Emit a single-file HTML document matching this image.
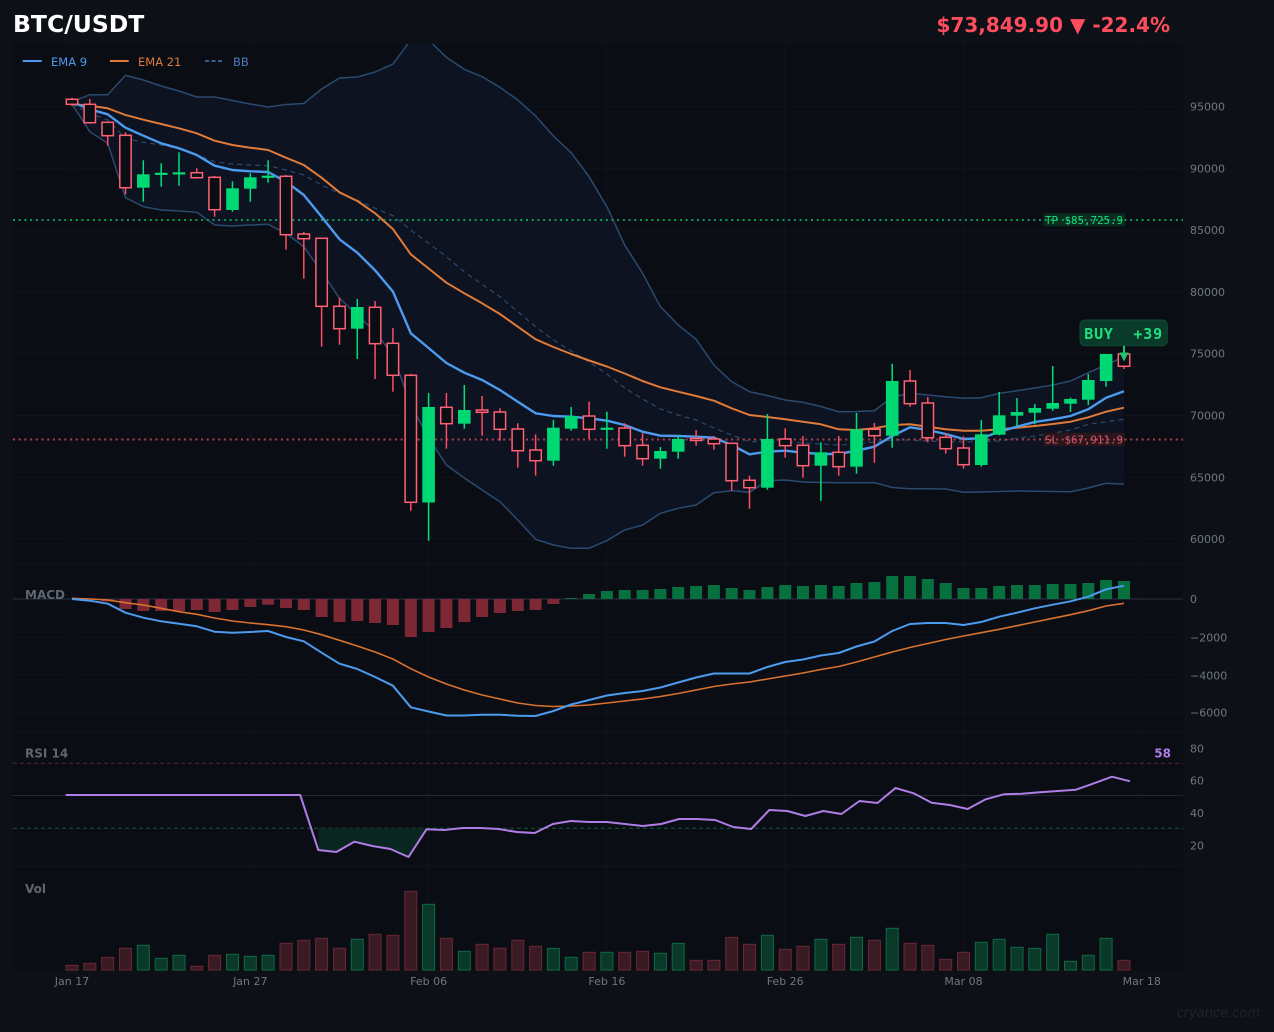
<!DOCTYPE html>
<html><head><meta charset="utf-8"><style>
html,body{margin:0;padding:0;background:#0d1117;}
svg{display:block;}
text{font-family:"DejaVu Sans","Liberation Sans",sans-serif;}
.tk{fill:#6e7681;font-size:11px;}
.wr{stroke:#ff4d63;stroke-width:1.5;}
.wg{stroke:#00e07a;stroke-width:1.5;}
.br{fill:#0b0e15;stroke:#ff6175;stroke-width:1.5;}
.bg{fill:#00d874;}
.vr{fill:#3b1b23;stroke:#6a2634;stroke-width:1;}
.vg{fill:#0a3829;stroke:#0d6a44;stroke-width:1;}
.hr{fill:#7e2836;}
.hg{fill:#07703f;}
</style></head><body>
<svg width="1274" height="1032" viewBox="0 0 1274 1032" xmlns="http://www.w3.org/2000/svg">
<defs>
<clipPath id="cm"><rect x="13" y="44" width="1170" height="518"/></clipPath>
</defs>
<rect x="0" y="0" width="1274" height="1032" fill="#0d1117"/>
<!-- panels -->
<rect x="13" y="44" width="1170" height="518" fill="#0a0d13"/>
<rect x="13" y="565" width="1170" height="166" fill="#0a0d13"/>
<rect x="13" y="734" width="1170" height="131" fill="#0a0d13"/>
<rect x="13" y="868" width="1170" height="102" fill="#0a0d13"/>

<!-- gridlines -->
<g stroke="#0f141d" stroke-width="1">
<line x1="13" y1="106.6" x2="1183" y2="106.6"/><line x1="13" y1="168.4" x2="1183" y2="168.4"/>
<line x1="13" y1="230.2" x2="1183" y2="230.2"/><line x1="13" y1="292" x2="1183" y2="292"/>
<line x1="13" y1="353.7" x2="1183" y2="353.7"/><line x1="13" y1="415.5" x2="1183" y2="415.5"/>
<line x1="13" y1="477.3" x2="1183" y2="477.3"/><line x1="13" y1="539" x2="1183" y2="539"/>
<line x1="13" y1="637" x2="1183" y2="637"/><line x1="13" y1="675" x2="1183" y2="675"/><line x1="13" y1="713" x2="1183" y2="713"/>
<line x1="72" y1="44" x2="72" y2="970"/><line x1="250.3" y1="44" x2="250.3" y2="970"/>
<line x1="428.6" y1="44" x2="428.6" y2="970"/><line x1="606.9" y1="44" x2="606.9" y2="970"/>
<line x1="785.2" y1="44" x2="785.2" y2="970"/><line x1="963.5" y1="44" x2="963.5" y2="970"/>
<line x1="1141.8" y1="44" x2="1141.8" y2="970"/>
</g>

<!-- main chart -->
<g clip-path="url(#cm)">
<polygon fill="#0d1320" points="72,101.7 89.8,94.7 107.7,94.7 125.5,75.3 143.3,80 161.2,86 179,91 196.8,97 214.6,97 232.5,100.5 250.3,104 268.1,107 286,104.5 303.8,103.5 321.6,89 339.5,78 357.3,77 375.1,72 392.9,64 410.8,40 428.6,40 446.4,57.3 464.3,69.3 482.1,76.7 499.9,87.3 517.8,100 535.6,116 553.4,136 571.2,152.7 589.1,176.7 606.9,206.7 624.7,245 642.6,273.3 660.4,306.7 678.2,325 696.1,339.3 713.9,365 731.7,381.7 749.5,391.7 767.4,395.5 785.2,400 803,402.3 820.9,406.5 838.7,411.7 856.5,411.5 874.4,410.7 892.2,397 910,393.3 927.8,395 945.7,396.7 963.5,398.3 981.3,397.7 999.2,393.3 1017,390.7 1034.8,388 1052.7,385 1070.5,381 1088.3,372.7 1106.1,365 1124,356.7 1124,484.3 1106.1,483.3 1088.3,488 1070.5,491.7 1052.7,491.5 1034.8,491.3 1017,491 999.2,491.5 981.3,492 963.5,492.3 945.7,489 927.8,488.7 910,488.7 892.2,487.5 874.4,482.7 856.5,482.7 838.7,482.7 820.9,482.5 803,482 785.2,480 767.4,480.7 749.5,492.3 731.7,490.7 713.9,492.7 696.1,505 678.2,508.3 660.4,513.3 642.6,525 624.7,530 606.9,540.7 589.1,548.3 571.2,548.3 553.4,545 535.6,539.3 517.8,520 499.9,501.7 482.1,490 464.3,478 446.4,465 428.6,438 410.8,405 392.9,355 375.1,331.7 357.3,315 339.5,298.3 321.6,271.7 303.8,246.7 286,233.3 268.1,224.3 250.3,225 232.5,226 214.6,225 196.8,212.3 179,211 161.2,210 143.3,206.7 125.5,197.7 107.7,143.3 89.8,131.7 72,104"/>
<polyline fill="none" stroke="#2b4a70" stroke-width="1.5" points="72,101.7 89.8,94.7 107.7,94.7 125.5,75.3 143.3,80 161.2,86 179,91 196.8,97 214.6,97 232.5,100.5 250.3,104 268.1,107 286,104.5 303.8,103.5 321.6,89 339.5,78 357.3,77 375.1,72 392.9,64 410.8,40 428.6,40 446.4,57.3 464.3,69.3 482.1,76.7 499.9,87.3 517.8,100 535.6,116 553.4,136 571.2,152.7 589.1,176.7 606.9,206.7 624.7,245 642.6,273.3 660.4,306.7 678.2,325 696.1,339.3 713.9,365 731.7,381.7 749.5,391.7 767.4,395.5 785.2,400 803,402.3 820.9,406.5 838.7,411.7 856.5,411.5 874.4,410.7 892.2,397 910,393.3 927.8,395 945.7,396.7 963.5,398.3 981.3,397.7 999.2,393.3 1017,390.7 1034.8,388 1052.7,385 1070.5,381 1088.3,372.7 1106.1,365 1124,356.7"/>
<polyline fill="none" stroke="#2b4a70" stroke-width="1.5" points="72,104 89.8,131.7 107.7,143.3 125.5,197.7 143.3,206.7 161.2,210 179,211 196.8,212.3 214.6,225 232.5,226 250.3,225 268.1,224.3 286,233.3 303.8,246.7 321.6,271.7 339.5,298.3 357.3,315 375.1,331.7 392.9,355 410.8,405 428.6,438 446.4,465 464.3,478 482.1,490 499.9,501.7 517.8,520 535.6,539.3 553.4,545 571.2,548.3 589.1,548.3 606.9,540.7 624.7,530 642.6,525 660.4,513.3 678.2,508.3 696.1,505 713.9,492.7 731.7,490.7 749.5,492.3 767.4,480.7 785.2,480 803,482 820.9,482.5 838.7,482.7 856.5,482.7 874.4,482.7 892.2,487.5 910,488.7 927.8,488.7 945.7,489 963.5,492.3 981.3,492 999.2,491.5 1017,491 1034.8,491.3 1052.7,491.5 1070.5,491.7 1088.3,488 1106.1,483.3 1124,484.3"/>
<polyline fill="none" stroke="#2b4a70" stroke-width="1.2" stroke-dasharray="5 4" points="72,104 89.8,113.3 107.7,120 125.5,138.3 143.3,142.3 161.2,145 179,148.3 196.8,155 214.6,161.7 232.5,164 250.3,165 268.1,165.7 286,170 303.8,175 321.6,185 339.5,193.3 357.3,200 375.1,208.3 392.9,215.7 410.8,230 428.6,243.3 446.4,256.7 464.3,272 482.1,284.3 499.9,296.7 517.8,311.7 535.6,326.7 553.4,340 571.2,351 589.1,362 606.9,374 624.7,388 642.6,399 660.4,409 678.2,415 696.1,420 713.9,428 731.7,435 749.5,441.7 767.4,441.5 785.2,441.7 803,443 820.9,444 838.7,445 856.5,444 874.4,442 892.2,440 910,440 927.8,441 945.7,441.7 963.5,442 981.3,441.7 999.2,441 1017,438.3 1034.8,436 1052.7,433.3 1070.5,430 1088.3,424.3 1106.1,421.7 1124,419.3"/>
</g>

<!-- TP / SL -->
<rect x="1043.3" y="213.3" width="81.7" height="13" rx="2" fill="#0b2d20"/>
<line x1="13" y1="220" x2="1183" y2="220" stroke="#0f9a5c" stroke-width="2" stroke-dasharray="2 3.7"/>
<text x="1084" y="224" text-anchor="middle" style="font-family:'DejaVu Sans Mono','Liberation Mono',monospace;font-size:10.8px;fill:#19e07c;">TP $85,725.9</text>
<rect x="1043.3" y="432.7" width="81.7" height="13.3" rx="2" fill="#2a151d"/>
<line x1="13" y1="439.5" x2="1183" y2="439.5" stroke="#a8404f" stroke-width="2" stroke-dasharray="2 3.7"/>
<text x="1084" y="443.5" text-anchor="middle" style="font-family:'DejaVu Sans Mono','Liberation Mono',monospace;font-size:10.8px;fill:#d9566a;">SL $67,911.9</text>

<!-- EMA lines -->
<polyline fill="none" stroke="#e07b39" stroke-width="2" stroke-linejoin="round" points="72,104 89.8,105.7 107.7,108.3 125.5,115 143.3,119.7 161.2,124 179,128.3 196.8,133.3 214.6,140.7 232.5,145 250.3,147.7 268.1,150 286,157.7 303.8,165 321.6,177.7 339.5,192.3 357.3,201 375.1,213.3 392.9,229 410.8,254.3 428.6,268.5 446.4,282.7 464.3,293.3 482.1,303.3 499.9,314 517.8,326.7 535.6,339.3 553.4,347 571.2,354 589.1,360.5 606.9,366.5 624.7,373.5 642.6,381 660.4,387.3 678.2,391.7 696.1,396 713.9,400.7 731.7,408.3 749.5,415 767.4,417 785.2,419.3 803,421.7 820.9,424.3 838.7,429.3 856.5,430 874.4,428.3 892.2,425 910,424.3 927.8,426.7 945.7,429.3 963.5,430.7 981.3,430.7 999.2,429.3 1017,427.7 1034.8,426 1052.7,424 1070.5,421.7 1088.3,417.3 1106.1,411.7 1124,407.7"/>
<polyline fill="none" stroke="#4d9bef" stroke-width="2.4" stroke-linejoin="round" points="72,102 89.8,109.3 107.7,114.3 125.5,127.7 143.3,135.7 161.2,143.3 179,148.3 196.8,155 214.6,165.7 232.5,170 250.3,171.3 268.1,172 286,181.7 303.8,195 321.6,216.7 339.5,239.3 357.3,252.7 375.1,270.3 392.9,291.5 410.8,333.3 428.6,348 446.4,363 464.3,372.7 482.1,380 499.9,390 517.8,401.7 535.6,413.3 553.4,416 571.2,416.7 589.1,418.3 606.9,420.7 624.7,425 642.6,431.7 660.4,435.7 678.2,436 696.1,436.7 713.9,437.7 731.7,445 749.5,454.3 767.4,451.7 785.2,450.7 803,452.7 820.9,454 838.7,454 856.5,450.7 874.4,446.7 892.2,436 910,427.3 927.8,430 945.7,434 963.5,439 981.3,438.3 999.2,431.7 1017,426.7 1034.8,422 1052.7,419.3 1070.5,416 1088.3,409.3 1106.1,397.7 1124,391.3"/>

<!-- candles -->
<g>
<line class="wr" x1="72" y1="97.7" x2="72" y2="106"/><rect class="br" x="66.3" y="99.3" width="11.4" height="5"/>
<line class="wr" x1="89.8" y1="99" x2="89.8" y2="123.7"/><rect class="br" x="84.1" y="104.3" width="11.4" height="18.4"/>
<line class="wr" x1="107.7" y1="122.3" x2="107.7" y2="145.7"/><rect class="br" x="102" y="122.3" width="11.4" height="13.4"/>
<line class="wr" x1="125.5" y1="132.3" x2="125.5" y2="194.3"/><rect class="br" x="119.8" y="135.3" width="11.4" height="52.4"/>
<line class="wg" x1="143.3" y1="160.3" x2="143.3" y2="201.7"/><rect class="bg" x="137" y="174.3" width="12.6" height="13.4"/>
<line class="wg" x1="161.2" y1="163.3" x2="161.2" y2="186.7"/><rect class="bg" x="154.9" y="172.8" width="12.6" height="2.2"/>
<line class="wg" x1="179" y1="152.3" x2="179" y2="185.7"/><rect class="bg" x="172.7" y="172.3" width="12.6" height="2.2"/>
<line class="wr" x1="196.8" y1="168.3" x2="196.8" y2="178.7"/><rect class="br" x="191.1" y="172.7" width="11.4" height="5"/>
<line class="wr" x1="214.6" y1="176" x2="214.6" y2="216.7"/><rect class="br" x="208.9" y="177.3" width="11.4" height="32.4"/>
<line class="wg" x1="232.5" y1="181.3" x2="232.5" y2="211.7"/><rect class="bg" x="226.2" y="188.3" width="12.6" height="21.7"/>
<line class="wg" x1="250.3" y1="173.3" x2="250.3" y2="201.7"/><rect class="bg" x="244" y="177.3" width="12.6" height="11.4"/>
<line class="wg" x1="268.1" y1="160.3" x2="268.1" y2="182.7"/><rect class="bg" x="261.8" y="175.7" width="12.6" height="2.2"/>
<line class="wr" x1="286" y1="175" x2="286" y2="249.7"/><rect class="br" x="280.3" y="176.3" width="11.4" height="58.4"/>
<line class="wr" x1="303.8" y1="232" x2="303.8" y2="278.7"/><rect class="br" x="298.1" y="234" width="11.4" height="4.7"/>
<line class="wr" x1="321.6" y1="238.3" x2="321.6" y2="346.7"/><rect class="br" x="315.9" y="238.3" width="11.4" height="68"/>
<line class="wr" x1="339.5" y1="297.7" x2="339.5" y2="344.7"/><rect class="br" x="333.8" y="306.3" width="11.4" height="22.4"/>
<line class="wg" x1="357.3" y1="299" x2="357.3" y2="359"/><rect class="bg" x="351" y="307" width="12.6" height="21.7"/>
<line class="wr" x1="375.1" y1="301" x2="375.1" y2="379"/><rect class="br" x="369.4" y="307.3" width="11.4" height="36.4"/>
<line class="wr" x1="392.9" y1="328" x2="392.9" y2="391.7"/><rect class="br" x="387.2" y="343.3" width="11.4" height="32"/>
<line class="wr" x1="410.8" y1="373.7" x2="410.8" y2="510.7"/><rect class="br" x="405.1" y="375.3" width="11.4" height="127"/>
<line class="wg" x1="428.6" y1="393" x2="428.6" y2="540.7"/><rect class="bg" x="422.3" y="407" width="12.6" height="95.5"/>
<line class="wr" x1="446.4" y1="393" x2="446.4" y2="448.7"/><rect class="br" x="440.7" y="407.3" width="11.4" height="16.4"/>
<line class="wg" x1="464.3" y1="385" x2="464.3" y2="428.7"/><rect class="bg" x="458" y="410" width="12.6" height="13.7"/>
<line class="wr" x1="482.1" y1="396" x2="482.1" y2="435.7"/><rect class="br" x="476.4" y="410" width="11.4" height="2.3"/>
<line class="wr" x1="499.9" y1="408.3" x2="499.9" y2="440.7"/><rect class="br" x="494.2" y="412" width="11.4" height="17.3"/>
<line class="wr" x1="517.8" y1="423.3" x2="517.8" y2="467.7"/><rect class="br" x="512.1" y="429" width="11.4" height="21.7"/>
<line class="wr" x1="535.6" y1="434.3" x2="535.6" y2="475.7"/><rect class="br" x="529.9" y="450" width="11.4" height="10.7"/>
<line class="wg" x1="553.4" y1="420" x2="553.4" y2="465.7"/><rect class="bg" x="547.1" y="427.7" width="12.6" height="33"/>
<line class="wg" x1="571.2" y1="407" x2="571.2" y2="430.7"/><rect class="bg" x="564.9" y="416" width="12.6" height="12.7"/>
<line class="wr" x1="589.1" y1="401.7" x2="589.1" y2="439"/><rect class="br" x="583.4" y="416" width="11.4" height="13.3"/>
<line class="wg" x1="606.9" y1="411.7" x2="606.9" y2="448.7"/><rect class="bg" x="600.6" y="427.7" width="12.6" height="2.2"/>
<line class="wr" x1="624.7" y1="423.3" x2="624.7" y2="456.7"/><rect class="br" x="619" y="428" width="11.4" height="17.7"/>
<line class="wr" x1="642.6" y1="433.3" x2="642.6" y2="465.7"/><rect class="br" x="636.9" y="445.3" width="11.4" height="13.4"/>
<line class="wg" x1="660.4" y1="447" x2="660.4" y2="468.7"/><rect class="bg" x="654.1" y="451" width="12.6" height="7.7"/>
<line class="wg" x1="678.2" y1="435" x2="678.2" y2="458.7"/><rect class="bg" x="671.9" y="439" width="12.6" height="12.7"/>
<line class="wr" x1="696.1" y1="430" x2="696.1" y2="445.7"/><rect class="br" x="690.4" y="438.5" width="11.4" height="2"/>
<line class="wr" x1="713.9" y1="436" x2="713.9" y2="449.7"/><rect class="br" x="708.2" y="439" width="11.4" height="4.7"/>
<line class="wr" x1="731.7" y1="443.3" x2="731.7" y2="490.7"/><rect class="br" x="726" y="443.3" width="11.4" height="37.4"/>
<line class="wr" x1="749.5" y1="475.7" x2="749.5" y2="508.7"/><rect class="br" x="743.8" y="480.3" width="11.4" height="7.4"/>
<line class="wg" x1="767.4" y1="414" x2="767.4" y2="489.7"/><rect class="bg" x="761.1" y="439" width="12.6" height="48.7"/>
<line class="wr" x1="785.2" y1="428.3" x2="785.2" y2="457.7"/><rect class="br" x="779.5" y="439" width="11.4" height="6.7"/>
<line class="wr" x1="803" y1="436" x2="803" y2="477.7"/><rect class="br" x="797.3" y="445.3" width="11.4" height="20.4"/>
<line class="wg" x1="820.9" y1="442.3" x2="820.9" y2="501"/><rect class="bg" x="814.6" y="452.3" width="12.6" height="13.4"/>
<line class="wr" x1="838.7" y1="436" x2="838.7" y2="475.7"/><rect class="br" x="833" y="452.3" width="11.4" height="14.4"/>
<line class="wg" x1="856.5" y1="413" x2="856.5" y2="473.7"/><rect class="bg" x="850.2" y="429.3" width="12.6" height="37.4"/>
<line class="wr" x1="874.4" y1="423" x2="874.4" y2="462.7"/><rect class="br" x="868.7" y="429.3" width="11.4" height="6.4"/>
<line class="wg" x1="892.2" y1="363.7" x2="892.2" y2="447.7"/><rect class="bg" x="885.9" y="381" width="12.6" height="54.7"/>
<line class="wr" x1="910" y1="370" x2="910" y2="406.7"/><rect class="br" x="904.3" y="381" width="11.4" height="22.7"/>
<line class="wr" x1="927.8" y1="397" x2="927.8" y2="442.3"/><rect class="br" x="922.1" y="403" width="11.4" height="34.7"/>
<line class="wr" x1="945.7" y1="433" x2="945.7" y2="453.7"/><rect class="br" x="940" y="437.3" width="11.4" height="11.4"/>
<line class="wr" x1="963.5" y1="436.3" x2="963.5" y2="468.7"/><rect class="br" x="957.8" y="448" width="11.4" height="16.7"/>
<line class="wg" x1="981.3" y1="420" x2="981.3" y2="466.7"/><rect class="bg" x="975" y="434.3" width="12.6" height="30.7"/>
<line class="wg" x1="999.2" y1="392" x2="999.2" y2="435.3"/><rect class="bg" x="992.9" y="415.3" width="12.6" height="19.4"/>
<line class="wg" x1="1017" y1="398" x2="1017" y2="427.3"/><rect class="bg" x="1010.7" y="412" width="12.6" height="3.7"/>
<line class="wg" x1="1034.8" y1="404" x2="1034.8" y2="424.3"/><rect class="bg" x="1028.5" y="408" width="12.6" height="4.7"/>
<line class="wg" x1="1052.7" y1="366" x2="1052.7" y2="410.7"/><rect class="bg" x="1046.4" y="403" width="12.6" height="5.7"/>
<line class="wg" x1="1070.5" y1="397.7" x2="1070.5" y2="412"/><rect class="bg" x="1064.2" y="399" width="12.6" height="4.7"/>
<line class="wg" x1="1088.3" y1="374" x2="1088.3" y2="405"/><rect class="bg" x="1082" y="380" width="12.6" height="19.7"/>
<line class="wg" x1="1106.1" y1="354" x2="1106.1" y2="386.7"/><rect class="bg" x="1099.8" y="354" width="12.6" height="27"/>
<line class="wr" x1="1124" y1="340" x2="1124" y2="369"/><rect class="br" x="1118.3" y="354" width="11.4" height="12.3"/>
</g>

<!-- BUY badge + arrow -->
<rect x="1080" y="320" width="87.3" height="25.7" rx="5" fill="#0a3a29" stroke="#0d4a34" stroke-width="1"/>
<text x="1123.6" y="339" text-anchor="middle" style="font-family:'DejaVu Sans Mono','Liberation Mono',monospace;font-weight:bold;font-size:15px;letter-spacing:0.8px;fill:#1fe07f;" xml:space="preserve">BUY  +39</text>
<line x1="1124" y1="346" x2="1124" y2="356" stroke="#1ec46f" stroke-width="2"/>
<polygon points="1119.5,352.5 1128.5,352.5 1124,361.5" fill="#1ec46f"/>

<!-- legend -->
<line x1="22.7" y1="61" x2="41.7" y2="61" stroke="#4d9bef" stroke-width="2"/>
<text x="51" y="66" style="font-size:11.5px;fill:#4d9bef;">EMA 9</text>
<line x1="110" y1="61" x2="128.7" y2="61" stroke="#e07b39" stroke-width="2"/>
<text x="138" y="66" style="font-size:11.5px;fill:#e07b39;">EMA 21</text>
<line x1="205" y1="61" x2="223" y2="61" stroke="#4a7ab0" stroke-width="1.5" stroke-dasharray="4 2.5"/>
<text x="233" y="66" style="font-size:11.5px;fill:#4a7ab8;">BB</text>

<!-- MACD -->
<line x1="13" y1="599" x2="1183" y2="599" stroke="#272d38" stroke-width="1.2"/>
<g>
<rect class="hr" x="83.8" y="599" width="12" height="0.6"/>
<rect class="hr" x="101.7" y="599" width="12" height="2.5"/>
<rect class="hr" x="119.5" y="599" width="12" height="10"/>
<rect class="hr" x="137.3" y="599" width="12" height="12"/>
<rect class="hr" x="155.2" y="599" width="12" height="12"/>
<rect class="hr" x="173" y="599" width="12" height="12"/>
<rect class="hr" x="190.8" y="599" width="12" height="11"/>
<rect class="hr" x="208.6" y="599" width="12" height="13"/>
<rect class="hr" x="226.5" y="599" width="12" height="11"/>
<rect class="hr" x="244.3" y="599" width="12" height="8"/>
<rect class="hr" x="262.1" y="599" width="12" height="5.7"/>
<rect class="hr" x="280" y="599" width="12" height="9"/>
<rect class="hr" x="297.8" y="599" width="12" height="11"/>
<rect class="hr" x="315.6" y="599" width="12" height="18"/>
<rect class="hr" x="333.5" y="599" width="12" height="23"/>
<rect class="hr" x="351.3" y="599" width="12" height="22"/>
<rect class="hr" x="369.1" y="599" width="12" height="24"/>
<rect class="hr" x="386.9" y="599" width="12" height="26"/>
<rect class="hr" x="404.8" y="599" width="12" height="38"/>
<rect class="hr" x="422.6" y="599" width="12" height="33"/>
<rect class="hr" x="440.4" y="599" width="12" height="29"/>
<rect class="hr" x="458.3" y="599" width="12" height="23"/>
<rect class="hr" x="476.1" y="599" width="12" height="18"/>
<rect class="hr" x="493.9" y="599" width="12" height="14"/>
<rect class="hr" x="511.8" y="599" width="12" height="12"/>
<rect class="hr" x="529.6" y="599" width="12" height="11"/>
<rect class="hr" x="547.4" y="599" width="12" height="5"/>
<rect class="hg" x="565.2" y="598" width="12" height="1"/>
<rect class="hg" x="583.1" y="594" width="12" height="5"/>
<rect class="hg" x="600.9" y="591" width="12" height="8"/>
<rect class="hg" x="618.7" y="590" width="12" height="9"/>
<rect class="hg" x="636.6" y="590" width="12" height="9"/>
<rect class="hg" x="654.4" y="589" width="12" height="10"/>
<rect class="hg" x="672.2" y="587" width="12" height="12"/>
<rect class="hg" x="690.1" y="586" width="12" height="13"/>
<rect class="hg" x="707.9" y="585" width="12" height="14"/>
<rect class="hg" x="725.7" y="588" width="12" height="11"/>
<rect class="hg" x="743.5" y="590" width="12" height="9"/>
<rect class="hg" x="761.4" y="587" width="12" height="12"/>
<rect class="hg" x="779.2" y="585" width="12" height="14"/>
<rect class="hg" x="797" y="586" width="12" height="13"/>
<rect class="hg" x="814.9" y="585" width="12" height="14"/>
<rect class="hg" x="832.7" y="586" width="12" height="13"/>
<rect class="hg" x="850.5" y="583" width="12" height="16"/>
<rect class="hg" x="868.4" y="582" width="12" height="17"/>
<rect class="hg" x="886.2" y="576" width="12" height="23"/>
<rect class="hg" x="904" y="576" width="12" height="23"/>
<rect class="hg" x="921.8" y="579" width="12" height="20"/>
<rect class="hg" x="939.7" y="583" width="12" height="16"/>
<rect class="hg" x="957.5" y="588" width="12" height="11"/>
<rect class="hg" x="975.3" y="588" width="12" height="11"/>
<rect class="hg" x="993.2" y="586" width="12" height="13"/>
<rect class="hg" x="1011" y="585" width="12" height="14"/>
<rect class="hg" x="1028.8" y="585" width="12" height="14"/>
<rect class="hg" x="1046.7" y="584" width="12" height="15"/>
<rect class="hg" x="1064.5" y="584" width="12" height="15"/>
<rect class="hg" x="1082.3" y="583" width="12" height="16"/>
<rect class="hg" x="1100.1" y="580" width="12" height="19"/>
<rect class="hg" x="1118" y="581" width="12" height="18"/>
</g>
<polyline fill="none" stroke="#d9722f" stroke-width="1.6" stroke-linejoin="round" points="72,598.3 89.8,599 107.7,600 125.5,602.7 143.3,605 161.2,608.3 179,611.7 196.8,614.3 214.6,618 232.5,621 250.3,623 268.1,624.7 286,626.7 303.8,630 321.6,634.7 339.5,640.3 357.3,646 375.1,652 392.9,659 410.8,668.7 428.6,677 446.4,684 464.3,690 482.1,695 499.9,699 517.8,703 535.6,705.5 553.4,706.5 571.2,706 589.1,705 606.9,703 624.7,701 642.6,699 660.4,696.5 678.2,693.5 696.1,690 713.9,686.5 731.7,684 749.5,682 767.4,679 785.2,676 803,673 820.9,669.5 838.7,666.5 856.5,662 874.4,657 892.2,652 910,647.5 927.8,643.5 945.7,639.5 963.5,636 981.3,632.7 999.2,629.3 1017,625.7 1034.8,622 1052.7,618.3 1070.5,614.7 1088.3,610.7 1106.1,606 1124,603.3"/>
<polyline fill="none" stroke="#4d9bef" stroke-width="2" stroke-linejoin="round" points="72,599 89.8,600.7 107.7,603.7 125.5,612.7 143.3,617.7 161.2,621.3 179,623.7 196.8,626.3 214.6,631.7 232.5,632.7 250.3,632 268.1,631 286,637 303.8,641.3 321.6,652.7 339.5,663.7 357.3,669 375.1,677 392.9,685.7 410.8,707.3 428.6,711.5 446.4,715.5 464.3,715.5 482.1,714.8 499.9,714.8 517.8,715.7 535.6,716 553.4,711 571.2,704.5 589.1,700 606.9,695.5 624.7,693 642.6,691 660.4,687.5 678.2,682.5 696.1,677.5 713.9,673.5 731.7,673.5 749.5,673.5 767.4,667 785.2,662 803,659.5 820.9,655.5 838.7,653 856.5,646.5 874.4,641.5 892.2,631 910,624 927.8,623 945.7,623 963.5,625 981.3,622 999.2,616.7 1017,612.7 1034.8,608.3 1052.7,604.7 1070.5,601.3 1088.3,596.7 1106.1,589.3 1124,585.7"/>
<text x="25" y="599" style="font-size:12px;font-weight:bold;fill:#5f6670;">MACD</text>

<!-- RSI -->
<line x1="13" y1="763.3" x2="1183" y2="763.3" stroke="#5a2530" stroke-width="1" stroke-dasharray="4 3"/>
<line x1="13" y1="795.5" x2="1183" y2="795.5" stroke="#222833" stroke-width="1"/>
<line x1="13" y1="828.3" x2="1183" y2="828.3" stroke="#0f5a37" stroke-width="1" stroke-dasharray="4 3"/>
<polygon fill="#0a2620" points="318.3,828.3 318.3,850 336.3,852 354.3,841.7 372.4,846 390.4,849 408.5,857 426.5,829.3 426.5,828.3"/>
<polyline fill="none" stroke="#b07de6" stroke-width="2" stroke-linejoin="round" points="65.7,795 300.2,795 318.3,850 336.3,852 354.3,841.7 372.4,846 390.4,849 408.5,857 426.5,829.3 444.5,830 462.6,828 480.6,828 498.7,829 516.7,832 534.7,833 552.8,824 570.8,821 588.9,822 606.9,822 624.9,824 643,826 661,824 679.1,819 697.1,819 715.1,820 733.2,827 751.2,829 769.3,810 787.3,811 805.3,816 823.4,811 841.4,814 859.5,801 877.5,803 895.5,788 913.6,793.3 931.6,802.7 949.7,805 967.7,809 985.7,799.3 1003.8,794.3 1021.8,793.7 1039.9,792.3 1057.9,791 1075.9,789.7 1094,783.3 1112,776.7 1130,781.3"/>
<text x="25" y="757.5" style="font-size:12px;font-weight:bold;fill:#5f6670;">RSI 14</text>
<text x="1171" y="757.5" text-anchor="end" style="font-size:12px;font-weight:bold;fill:#b07de6;">58</text>

<!-- Volume -->
<g>
<rect class="vr" x="66" y="965.3" width="12" height="4.7"/>
<rect class="vr" x="83.8" y="963.3" width="12" height="6.7"/>
<rect class="vr" x="101.7" y="957.3" width="12" height="12.7"/>
<rect class="vr" x="119.5" y="948.3" width="12" height="21.7"/>
<rect class="vg" x="137.3" y="945.3" width="12" height="24.7"/>
<rect class="vg" x="155.2" y="958.3" width="12" height="11.7"/>
<rect class="vg" x="173" y="955.3" width="12" height="14.7"/>
<rect class="vr" x="190.8" y="966.3" width="12" height="3.7"/>
<rect class="vr" x="208.6" y="955.3" width="12" height="14.7"/>
<rect class="vg" x="226.5" y="954.3" width="12" height="15.7"/>
<rect class="vg" x="244.3" y="956.3" width="12" height="13.7"/>
<rect class="vg" x="262.1" y="955.3" width="12" height="14.7"/>
<rect class="vr" x="280" y="943.3" width="12" height="26.7"/>
<rect class="vr" x="297.8" y="940.3" width="12" height="29.7"/>
<rect class="vr" x="315.6" y="938.3" width="12" height="31.7"/>
<rect class="vr" x="333.5" y="948.3" width="12" height="21.7"/>
<rect class="vg" x="351.3" y="939.3" width="12" height="30.7"/>
<rect class="vr" x="369.1" y="934.3" width="12" height="35.7"/>
<rect class="vr" x="386.9" y="935.3" width="12" height="34.7"/>
<rect class="vr" x="404.8" y="891.3" width="12" height="78.7"/>
<rect class="vg" x="422.6" y="904.3" width="12" height="65.7"/>
<rect class="vr" x="440.4" y="938.3" width="12" height="31.7"/>
<rect class="vg" x="458.3" y="951.3" width="12" height="18.7"/>
<rect class="vr" x="476.1" y="944.3" width="12" height="25.7"/>
<rect class="vr" x="493.9" y="948.3" width="12" height="21.7"/>
<rect class="vr" x="511.8" y="940.3" width="12" height="29.7"/>
<rect class="vr" x="529.6" y="946.3" width="12" height="23.7"/>
<rect class="vg" x="547.4" y="948.3" width="12" height="21.7"/>
<rect class="vg" x="565.2" y="957.3" width="12" height="12.7"/>
<rect class="vr" x="583.1" y="952.3" width="12" height="17.7"/>
<rect class="vg" x="600.9" y="952.3" width="12" height="17.7"/>
<rect class="vr" x="618.7" y="952.3" width="12" height="17.7"/>
<rect class="vr" x="636.6" y="951.3" width="12" height="18.7"/>
<rect class="vg" x="654.4" y="953.3" width="12" height="16.7"/>
<rect class="vg" x="672.2" y="943.3" width="12" height="26.7"/>
<rect class="vr" x="690.1" y="960.3" width="12" height="9.7"/>
<rect class="vr" x="707.9" y="960.3" width="12" height="9.7"/>
<rect class="vr" x="725.7" y="937.3" width="12" height="32.7"/>
<rect class="vr" x="743.5" y="944.3" width="12" height="25.7"/>
<rect class="vg" x="761.4" y="935.3" width="12" height="34.7"/>
<rect class="vr" x="779.2" y="949.3" width="12" height="20.7"/>
<rect class="vr" x="797" y="946.3" width="12" height="23.7"/>
<rect class="vg" x="814.9" y="939.3" width="12" height="30.7"/>
<rect class="vr" x="832.7" y="944.3" width="12" height="25.7"/>
<rect class="vg" x="850.5" y="937.3" width="12" height="32.7"/>
<rect class="vr" x="868.4" y="940.3" width="12" height="29.7"/>
<rect class="vg" x="886.2" y="928.3" width="12" height="41.7"/>
<rect class="vr" x="904" y="943.3" width="12" height="26.7"/>
<rect class="vr" x="921.8" y="945.3" width="12" height="24.7"/>
<rect class="vr" x="939.7" y="959.3" width="12" height="10.7"/>
<rect class="vr" x="957.5" y="952.3" width="12" height="17.7"/>
<rect class="vg" x="975.3" y="942.3" width="12" height="27.7"/>
<rect class="vg" x="993.2" y="939.3" width="12" height="30.7"/>
<rect class="vg" x="1011" y="947.3" width="12" height="22.7"/>
<rect class="vg" x="1028.8" y="948.3" width="12" height="21.7"/>
<rect class="vg" x="1046.7" y="934.3" width="12" height="35.7"/>
<rect class="vg" x="1064.5" y="961.3" width="12" height="8.7"/>
<rect class="vg" x="1082.3" y="955.3" width="12" height="14.7"/>
<rect class="vg" x="1100.1" y="938.3" width="12" height="31.7"/>
<rect class="vr" x="1118" y="960.3" width="12" height="9.7"/>
</g>
<text x="25" y="893" style="font-size:12px;font-weight:bold;fill:#5f6670;">Vol</text>

<!-- right axis labels -->
<g class="tk">
<text class="tk" x="1190" y="110.6">95000</text>
<text class="tk" x="1190" y="172.4">90000</text>
<text class="tk" x="1190" y="234.2">85000</text>
<text class="tk" x="1190" y="296">80000</text>
<text class="tk" x="1190" y="357.7">75000</text>
<text class="tk" x="1190" y="419.5">70000</text>
<text class="tk" x="1190" y="481.3">65000</text>
<text class="tk" x="1190" y="543">60000</text>
<text class="tk" x="1190" y="603">0</text>
<text class="tk" x="1190" y="641.5">−2000</text>
<text class="tk" x="1190" y="679.5">−4000</text>
<text class="tk" x="1190" y="716.7">−6000</text>
<text class="tk" x="1190" y="752.5">80</text>
<text class="tk" x="1190" y="784.7">60</text>
<text class="tk" x="1190" y="817">40</text>
<text class="tk" x="1190" y="849.5">20</text>
</g>
<!-- x axis labels -->
<g>
<text class="tk" x="72" y="985" text-anchor="middle">Jan 17</text>
<text class="tk" x="250.3" y="985" text-anchor="middle">Jan 27</text>
<text class="tk" x="428.6" y="985" text-anchor="middle">Feb 06</text>
<text class="tk" x="606.9" y="985" text-anchor="middle">Feb 16</text>
<text class="tk" x="785.2" y="985" text-anchor="middle">Feb 26</text>
<text class="tk" x="963.5" y="985" text-anchor="middle">Mar 08</text>
<text class="tk" x="1141.8" y="985" text-anchor="middle">Mar 18</text>
</g>

<!-- header -->
<text x="13" y="32" style="font-size:23.5px;font-weight:bold;fill:#ffffff;">BTC/USDT</text>
<text x="1170" y="32" text-anchor="end" style="font-size:20px;font-weight:bold;fill:#ff4d5e;">$73,849.90  ▼ -22.4%</text>

<!-- watermark -->
<text x="1260" y="1017" text-anchor="end" style="font-size:13px;font-style:italic;fill:#1e242e;">cryance.com</text>
</svg>
</body></html>
